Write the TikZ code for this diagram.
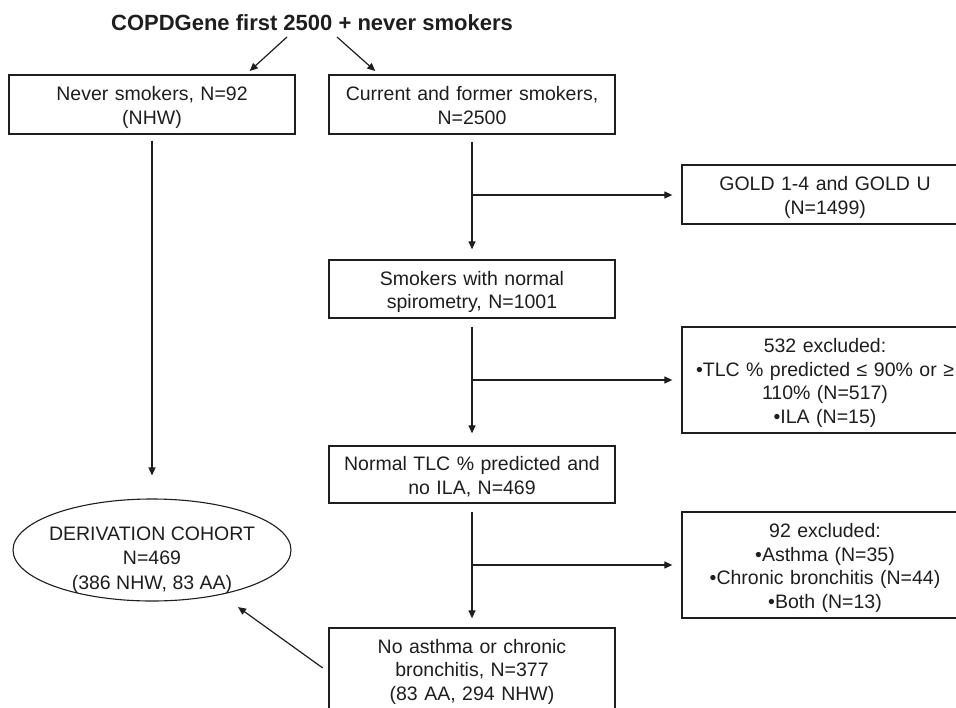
\documentclass[tikz,border=0pt]{standalone}
\usepackage{fontspec}
\setmainfont{Liberation Sans}
\usetikzlibrary{arrows.meta,shapes.geometric}
\definecolor{ink}{HTML}{1E1E1E}
\begin{document}
\begin{tikzpicture}[x=1pt,y=-1pt,
  box/.style={draw=ink, line width=1.3pt, text=ink, text width=280pt, align=center,
    inner xsep=3pt, inner ysep=0pt, font=\fontsize{19.5}{23.5}\selectfont,
    execute at begin node={\rule{0pt}{20.5pt}},
    execute at end node={\rule[-5pt]{0pt}{0pt}}},
  txt/.style={text=ink, align=center, inner sep=0pt, font=\fontsize{19.5}{24.5}\selectfont},
  arr/.style={draw=ink, line width=1.2pt, -{Triangle[length=8pt,width=7pt]}}]
\clip (0,0) rectangle (956,707);
\fill[white] (0,0) rectangle (956,707);

\node[text=ink, inner sep=0pt, font=\bfseries\fontsize{22}{26}\selectfont] (title) at (312,23) {COPDGene first 2500 + never smokers};

\node[box, minimum height=59pt] (never) at (152,104.5) {Never smokers, N=92\\(NHW)};
\node[box, minimum height=59pt] (cur) at (472,104.5) {Current and former smokers,\\N=2500};
\node[box, minimum height=59pt] (gold) at (825,194.5) {GOLD 1-4 and GOLD U\\(N=1499)};
\node[box, minimum height=58pt] (smk) at (472,289) {Smokers with normal\\spirometry, N=1001};
\node[box, minimum height=106pt] (exca) at (825,380) {532 excluded:\\•TLC \% predicted ≤ 90\% or ≥\\110\% (N=517)\\•ILA (N=15)};
\node[box, minimum height=57pt] (ntlc) at (472,474.5) {Normal TLC \% predicted and\\no ILA, N=469};
\node[box, minimum height=106pt] (excb) at (825,565) {92 excluded:\\•Asthma (N=35)\\•Chronic bronchitis (N=44)\\•Both (N=13)};
\node[box, minimum height=82pt] (noast) at (472,669) {No asthma or chronic\\bronchitis, N=377\\(83 AA, 294 NHW)};

\node[draw=ink, line width=1.1pt, ellipse, minimum width=278pt, minimum height=102pt, inner sep=0pt] (deriv) at (152,550) {};
\node[txt] (derivtxt) at (152,560) {DERIVATION COHORT\\N=469\\(386 NHW, 83 AA)};

% title arrows
\coordinate (tl) at (287,37);
\coordinate (tr) at (337,37);
\draw[arr, shorten >=5pt] (tl) -- ([xshift=94pt]never.north);
\draw[arr, shorten >=5pt] (tr) -- ([xshift=-93pt]cur.north);

% left column
\draw[arr, shorten <=6pt, shorten >=23pt] (never) -- (deriv);

% middle column
\draw[arr, shorten <=7pt, shorten >=10pt] (cur) -- (smk);
\draw[arr, shorten <=8pt, shorten >=12pt] (smk) -- (ntlc);
\draw[arr, shorten <=8pt, shorten >=9pt] (ntlc) -- (noast);

% branches
\coordinate (b1) at (472,195);
\coordinate (b2) at (472,380);
\coordinate (b3) at (472,565);
\draw[arr, shorten >=9pt] (b1) -- (b1 -| gold.west);
\draw[arr, shorten >=9pt] (b2) -- (b2 -| exca.west);
\draw[arr, shorten >=9pt] (b3) -- (b3 -| excb.west);

% to derivation cohort
\draw[arr, shorten <=7pt, shorten >=21pt] ([yshift=-3pt]noast.west) -- (deriv.-33);
\end{tikzpicture}
\end{document}
